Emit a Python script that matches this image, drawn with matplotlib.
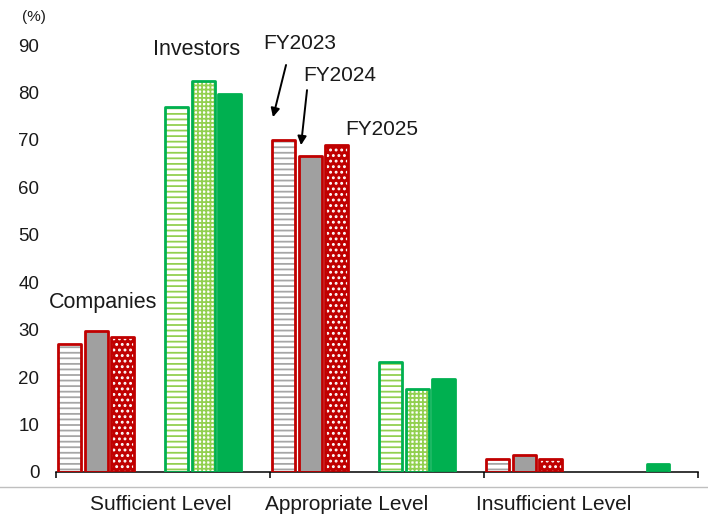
import numpy as np
import matplotlib
matplotlib.use("Agg")
import matplotlib.pyplot as plt
from matplotlib.lines import Line2D

plt.rcParams["font.family"] = ["Liberation Sans", "DejaVu Sans"]
plt.rcParams["hatch.linewidth"] = 1.3

# ---------- data (%) ----------
levels = ["Sufficient Level", "Appropriate Level", "Insufficient Level"]
years = ["FY2023", "FY2024", "FY2025"]
companies_fy2023 = [27.0, 70.0, 2.7]
companies_fy2024 = [29.7, 66.7, 3.6]
companies_fy2025 = [28.4, 69.0, 2.7]
investors_fy2023 = [77.0, 23.2, 0.0]
investors_fy2024 = [82.5, 17.5, 0.0]
investors_fy2025 = [79.7, 19.5, 1.7]
yticks = [0, 10, 20, 30, 40, 50, 60, 70, 80, 90]

RED = "#C00000"
GREEN = "#00B050"
LGREEN = "#92D050"
GRAY = "#A0A0A0"
LGRAY = "#A6A6A6"
TXT = "#1a1a1a"

# fill / hatch / border per series
styles = {
    ("C", 0): dict(face="white", hatchc=LGRAY, hatch="---", edge=RED),
    ("C", 1): dict(face=GRAY, hatchc=GRAY, hatch=None, edge=RED),
    ("C", 2): dict(face=RED, hatchc="white", hatch="...", edge=RED),
    ("I", 0): dict(face="white", hatchc=LGREEN, hatch="---", edge=GREEN),
    ("I", 1): dict(face="white", hatchc=LGREEN, hatch="++++", edge=GREEN),
    ("I", 2): dict(face=GREEN, hatchc=GREEN, hatch=None, edge=GREEN),
}

fig = plt.figure(figsize=(7.08, 5.15), dpi=100)
ax = fig.add_axes([0.079, 0.0835, 0.907, 0.829])

idx = np.arange(len(levels))
slot = 1 / 8
width = 0.107

series = [
    ("C", 0, companies_fy2023), ("C", 1, companies_fy2024), ("C", 2, companies_fy2025),
    ("I", 0, investors_fy2023), ("I", 1, investors_fy2024), ("I", 2, investors_fy2025),
]
for grp, k, vals in series:
    st = styles[(grp, k)]
    s = k if grp == "C" else k + 4
    x = idx + (s + 0.5) * slot
    v = np.array(vals, dtype=float)
    shown = np.where(v > 0, v, np.nan)
    ax.bar(x, shown, width, color=st["face"], edgecolor=st["hatchc"],
           hatch=st["hatch"], linewidth=0, zorder=2)
    ax.bar(x, shown, width, fill=False, edgecolor=st["edge"], linewidth=2,
           joinstyle="round", zorder=3)

ax.set_xlim(0, 3)
ax.set_ylim(0, 90)
ax.set_yticks(yticks)
ax.set_yticklabels([str(t) for t in yticks], fontsize=13.5, color=TXT)
ax.tick_params(axis="y", length=0, pad=12)
ax.set_xticks([0, 1, 2, 3])
ax.set_xticklabels([])
ax.tick_params(axis="x", direction="out", length=4.5, width=1.1, color="black")
for side in ("left", "right", "top"):
    ax.spines[side].set_visible(False)
ax.spines["bottom"].set_linewidth(1.1)
ax.spines["bottom"].set_color("black")

# category labels under the axis
for xl, lab in zip([0.49, 1.36, 2.325], levels):
    ax.text(xl, -0.077, lab, transform=ax.get_xaxis_transform(),
            ha="center", va="center", fontsize=15, color=TXT)

ax.text(-0.035, 1.065, "(%)", transform=ax.transAxes, ha="center", va="center",
        fontsize=11, color=TXT)

ax.text(0.222, 35.8, "Companies", ha="center", va="center", fontsize=15.5, color=TXT)
ax.text(0.657, 89.0, "Investors", ha="center", va="center", fontsize=15.5,
        color=TXT, clip_on=False)
ax.text(1.140, 90.4, years[0], ha="center", va="center", fontsize=15, color=TXT, clip_on=False)
ax.text(1.327, 83.5, years[1], ha="center", va="center", fontsize=15, color=TXT)
ax.text(1.523, 72.1, years[2], ha="center", va="center", fontsize=15, color=TXT)

arrow = dict(arrowstyle="-|>", color="black", lw=1.4, mutation_scale=13,
             shrinkA=0, shrinkB=0)
ax.annotate("", xy=(1.014, 74.8), xytext=(1.075, 85.8), arrowprops=arrow)
ax.annotate("", xy=(1.145, 68.9), xytext=(1.173, 80.5), arrowprops=arrow)

# thin frame line along the bottom
fig.add_artist(Line2D([0, 1], [0.0544, 0.0544], transform=fig.transFigure,
                      color="#BFBFBF", lw=1))

fig.savefig("out.png", dpi=100)
